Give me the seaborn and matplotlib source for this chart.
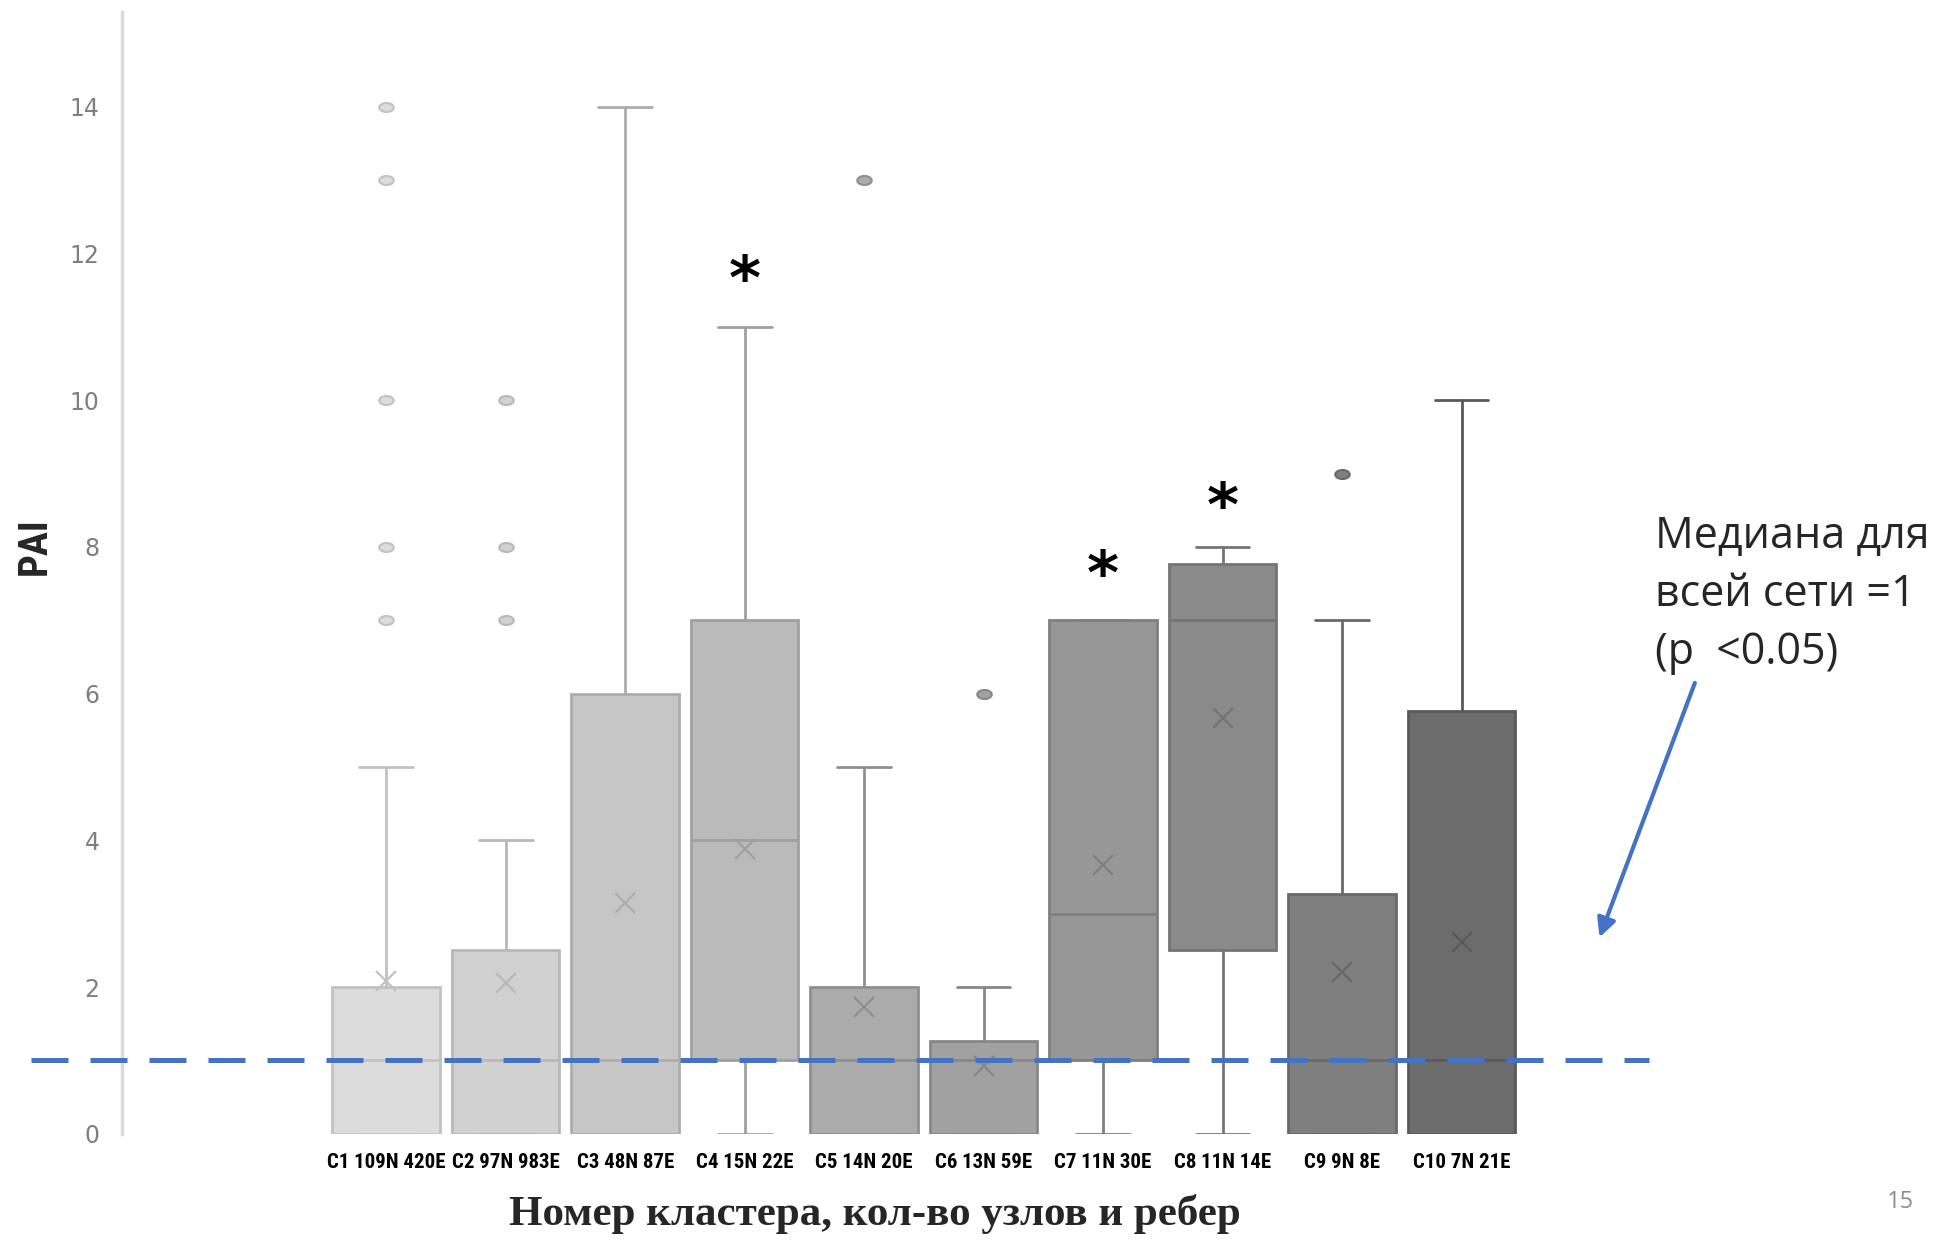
import matplotlib
matplotlib.use("Agg")
import matplotlib.pyplot as plt
from matplotlib.markers import MarkerStyle
from matplotlib.transforms import Affine2D
import seaborn as sns

sns.set_theme(style="white")
plt.rcParams['font.family'] = ['DejaVu Sans']

# cluster labels
clusters = ['C1 109N 420E', 'C2 97N 983E', 'C3 48N 87E', 'C4 15N 22E', 'C5 14N 20E',
            'C6 13N 59E', 'C7 11N 30E', 'C8 11N 14E', 'C9 9N 8E', 'C10 7N 21E']
# box statistics
whis_lo = [0, 0, 0, 0, 0, 0, 0, 0, 0, 0]
q1 = [0, 0, 0, 1, 0, 0, 1, 2.5, 0, 0]
medians = [1, 1, 1, 4, 1, 1, 3, 7, 1, 1]
q3 = [2, 2.5, 6, 7, 2, 1.27, 7, 7.77, 3.27, 5.76]
whis_hi = [5, 4, 14, 11, 5, 2, 7, 8, 7, 10]
means = [2.08, 2.05, 3.15, 3.88, 1.73, 0.93, 3.66, 5.67, 2.2, 2.62]
outliers = [[7, 8, 10, 13, 14], [7, 8, 10], [], [], [13], [6], [], [], [9], []]
significant = [False, False, False, True, False, False, True, True, False, False]
star_y = [0, 0, 0, 11.6, 0, 0, 7.58, 8.51, 0, 0]
overall_median = 1

fills = ['#dcdcdc', '#d1d1d1', '#c6c6c6', '#bababa', '#ababab',
         '#a1a1a1', '#979797', '#8a8a8a', '#7f7f7f', '#6c6c6c']
edges = ['#c2c2c2', '#b8b8b8', '#adadad', '#a0a0a0', '#8f8f8f',
         '#878787', '#7f7f7f', '#747474', '#696969', '#5a5a5a']

narrow = ['Roboto Condensed', 'DejaVu Sans Condensed', 'Roboto', 'DejaVu Sans']
oval = MarkerStyle('o', transform=Affine2D().scale(1.6, 1.0))

fig = plt.figure(figsize=(19.47, 12.46), dpi=100)
ax = fig.add_axes([0.0625, 0.0901, 0.847 - 0.0625, 0.900])

for i, name in enumerate(clusters):
    st = dict(label=name, whislo=whis_lo[i], q1=q1[i], med=medians[i], q3=q3[i],
              whishi=whis_hi[i], mean=means[i], fliers=outliers[i])
    ax.bxp([st], positions=[i], widths=0.9, showmeans=True, patch_artist=True,
           boxprops=dict(facecolor=fills[i], edgecolor=edges[i], linewidth=2),
           medianprops=dict(color=edges[i], linewidth=2),
           whiskerprops=dict(color=edges[i], linewidth=2),
           capprops=dict(color=edges[i], linewidth=2),
           meanprops=dict(marker='x', markeredgecolor=edges[i], markersize=15,
                          markeredgewidth=1.6),
           flierprops=dict(marker=oval, markerfacecolor=fills[i],
                           markeredgecolor=edges[i], markersize=6.5,
                           markeredgewidth=1.5))
    if significant[i]:
        ax.text(i, star_y[i], '*', ha='center', va='center', fontsize=44,
                fontweight='bold', color='black')

ax.plot([-2.97, 10.57], [overall_median, overall_median], color='#4472C4',
        lw=3.6, linestyle=(0, (7.4, 4.4)), clip_on=False, zorder=5)

ax.set_xlim(-2.214, 10.57)
ax.set_ylim(0, 15.29)
ax.set_xticks(range(len(clusters)))
ax.set_xticklabels(clusters, fontsize=15, fontweight='bold', family=narrow)
ax.set_yticks(range(0, 15, 2))
ax.tick_params(axis='y', colors='#7f7f7f', labelsize=17, length=0, pad=16)
ax.tick_params(axis='x', colors='black', length=0, pad=14)
sns.despine(ax=ax, bottom=True)
ax.spines['left'].set_color('#d9d9d9')
ax.spines['left'].set_linewidth(2.5)
ax.grid(False)

fig.text(0.018, 0.562, 'PAI', rotation=90, ha='center', va='center',
         fontsize=29, fontweight='bold', family=narrow)
fig.text(0.4496, 0.0254, 'Номер кластера, кол-во узлов и ребер', ha='center',
         va='center', fontsize=31, fontweight='bold', family=['Liberation Serif'])
fig.text(0.850, 0.587, 'Медиана для\nвсей сети =1\n(p  <0.05)', ha='left', va='top',
         fontsize=31, family=['Open Sans', 'DejaVu Sans'], linespacing=1.4)
fig.text(0.976, 0.035, '15', ha='center', va='center', fontsize=17,
         color='#8c8c8c', family=['Open Sans', 'DejaVu Sans'])
fig.patches.append(matplotlib.patches.FancyArrowPatch(
    (0.871, 0.454), (0.821, 0.2456), transform=fig.transFigure,
    arrowstyle='-|>', mutation_scale=28, color='#4472C4', lw=3))

fig.savefig('out.png', dpi=100)
